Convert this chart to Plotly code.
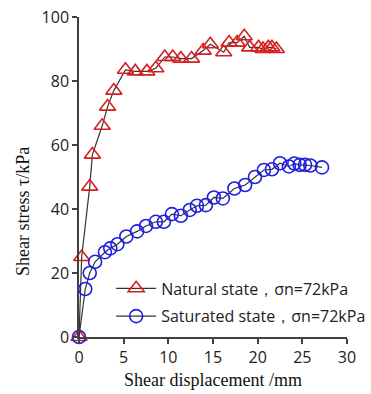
import plotly.graph_objects as go

nat_x = [0, 0.3, 1.2, 1.5, 2.6, 3.2, 3.9, 5.2, 6.3, 7.6, 8.6, 9.6, 10.5, 11.4, 12.6, 13.9, 14.7,
         16.2, 16.8, 17.7, 18.5, 19.1, 20.1, 20.6, 21.2, 21.6, 22.1]
nat_y = [0, 25, 47, 57, 66, 72, 77, 83.5, 83, 83, 84, 87.5, 87.5, 87, 87, 89.5, 91.5,
         89, 92, 92, 94, 90.5, 90.5, 90, 90.5, 90.5, 90]

sat_x = [0, 0.7, 1.2, 1.8, 2.9, 3.5, 4.3, 5.3, 6.5, 7.5, 8.6, 9.5, 10.4, 11.4, 12.4, 13.2, 14.2,
         15.1, 16.1, 17.4, 18.6, 19.7, 20.7, 21.6, 22.5, 23.5, 24.1, 24.7, 25.3, 25.9, 27.2]
sat_y = [0, 15, 20, 23.5, 26.5, 27.7, 29, 31.4, 33, 34.7, 36, 36, 38.4, 37.9, 39.7, 41, 41.2,
         43.6, 43.3, 46.4, 47.5, 50, 52.2, 52.4, 54.3, 53.3, 54.2, 53.8, 53.8, 53.6, 53]

x_ticks = [0, 5, 10, 15, 20, 25, 30]
y_ticks = [0, 20, 40, 60, 80, 100]

fig = go.Figure()
fig.add_trace(go.Scatter(
    x=nat_x, y=nat_y, mode="lines+markers", name="Natural state，σn=72kPa", legendgroup="nat",
    line=dict(color="#333333", width=1.2),
    marker=dict(symbol="triangle-up-open", size=14, color="#d91e1e", line=dict(width=1.6)),
    cliponaxis=False,
))
fig.add_trace(go.Scatter(
    x=sat_x, y=sat_y, mode="lines+markers", name="Saturated state，σn=72kPa", legendgroup="sat",
    line=dict(color="#333333", width=1.2),
    marker=dict(symbol="circle-open", size=13, color="#1f1fe0", line=dict(width=1.6)),
    cliponaxis=False,
))

axis_common = dict(
    showline=True, linecolor="#404040", linewidth=1.5, ticks="outside", ticklen=5,
    tickcolor="#404040", tickwidth=1.5, showgrid=False, zeroline=False, automargin=False,
    ticklabeloverflow="allow",
    tickfont=dict(family="Open Sans, Liberation Sans, sans-serif", size=16, color="#222222"),
)

fig.update_layout(
    width=371, height=394,
    margin=dict(l=79, r=24, t=17, b=57, autoexpand=False),
    paper_bgcolor="white", plot_bgcolor="white",
    xaxis=dict(range=[0, 30], tickvals=x_ticks,
               title=dict(text="Shear displacement /mm", standoff=6,
                          font=dict(family="Liberation Serif, serif", size=18, color="#111111")),
               **axis_common),
    yaxis=dict(range=[0, 100], tickvals=y_ticks, **axis_common),
    annotations=[dict(text="Shear stress τ/kPa", textangle=-90, showarrow=False,
                      xref="paper", yref="paper", x=-0.209, y=0.394,
                      xanchor="center", yanchor="middle",
                      font=dict(family="Liberation Serif, serif", size=18, color="#111111"))],
    legend=dict(x=0.12, y=0.205, xanchor="left", yanchor="top", bgcolor="rgba(0,0,0,0)",
                font=dict(family="Open Sans, Liberation Sans, sans-serif", size=16, color="#222222"),
                itemwidth=40, tracegroupgap=4),
    showlegend=True,
)

fig.write_html("out.html", config={"displayModeBar": False},
               post_script="document.body.style.margin='0';")
